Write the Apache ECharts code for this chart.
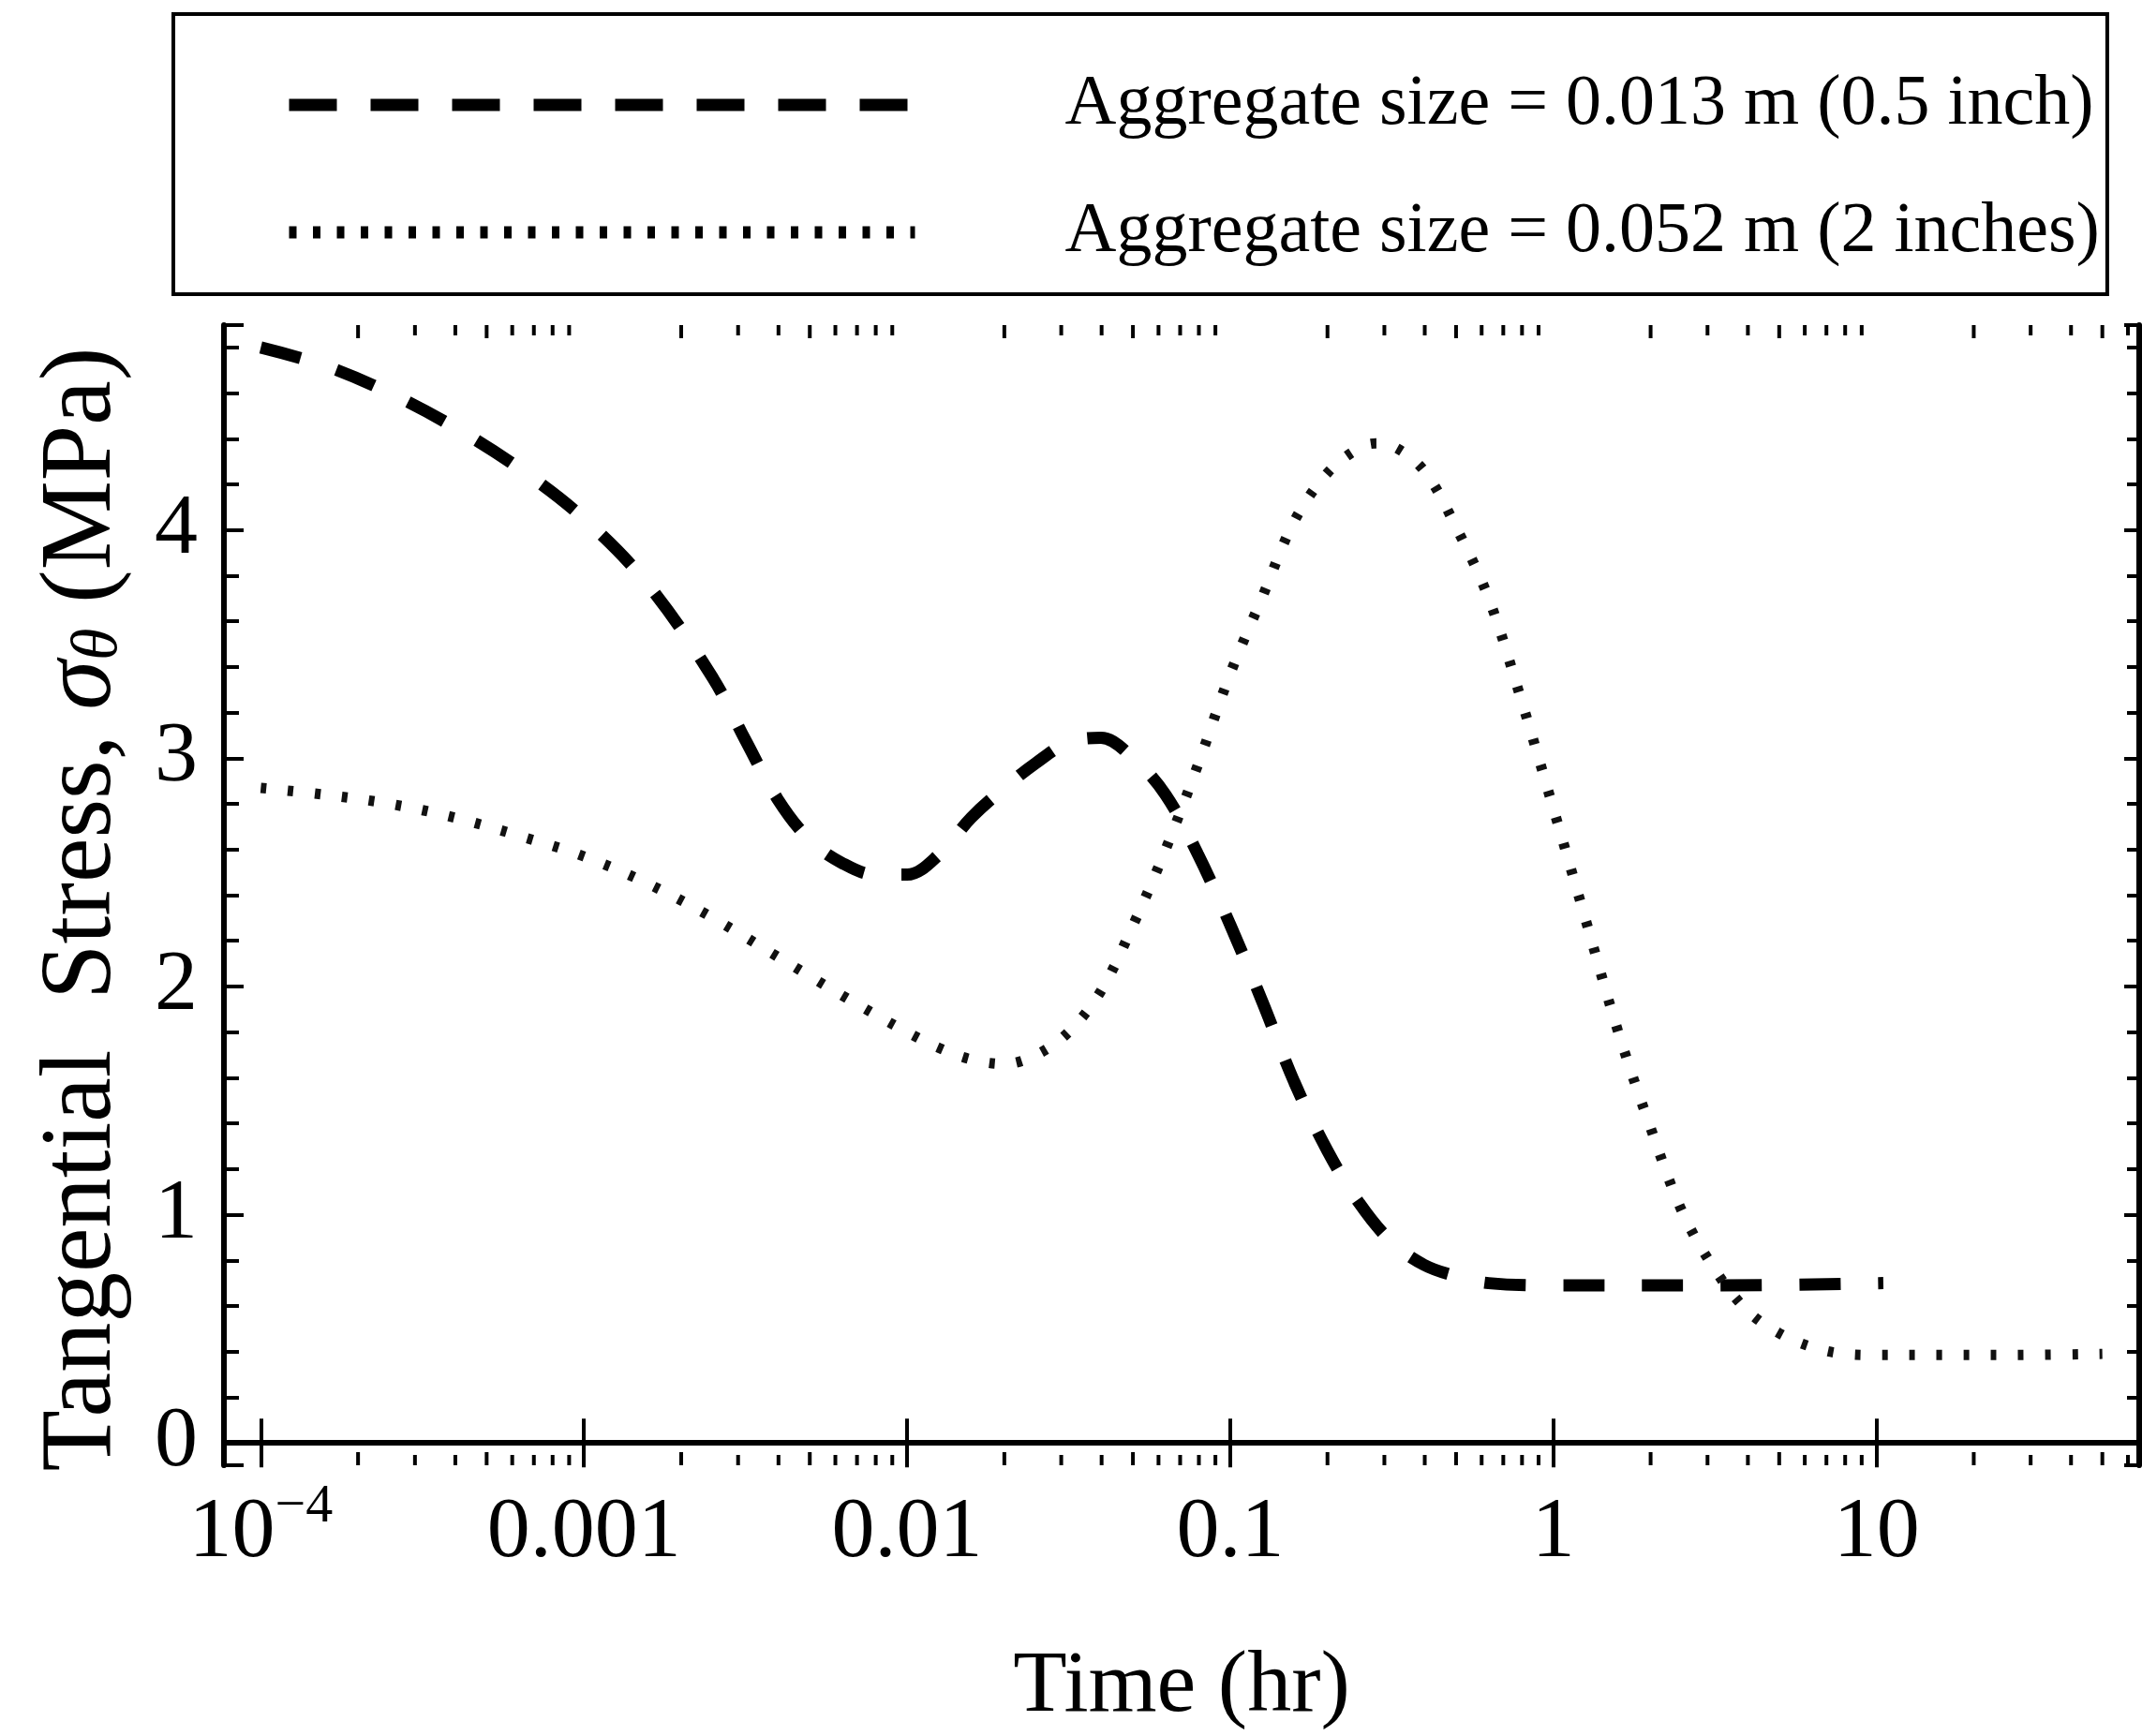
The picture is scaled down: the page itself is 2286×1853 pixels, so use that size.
<!DOCTYPE html>
<html><head><meta charset="utf-8">
<script src="https://cdn.jsdelivr.net/npm/echarts@6/dist/echarts.min.js"></script>
<style>html,body{margin:0;padding:0;background:#fff;}#c{width:2286px;height:1853px;}</style>
</head><body><div id="c"></div>
<script>
// ---- data ----
const seriesNames = ['Aggregate size = 0.013 m (0.5 inch)', 'Aggregate size = 0.052 m (2 inches)'];

const timesA = [0.0001, 0.000158, 0.000251, 0.000398, 0.000631, 0.001, 0.00158, 0.00251, 0.00316, 0.00398, 0.00501, 0.00631, 0.00794, 0.01, 0.0126, 0.0158, 0.02, 0.0251, 0.0316, 0.0398, 0.0501, 0.0631, 0.0794, 0.1, 0.126, 0.158, 0.2, 0.251, 0.316, 0.398, 0.501, 0.631, 1, 3.16, 10.5];
const stressA = [4.80, 4.72, 4.60, 4.45, 4.27, 4.05, 3.76, 3.35, 3.08, 2.82, 2.64, 2.54, 2.49, 2.49, 2.58, 2.74, 2.87, 2.98, 3.07, 3.09, 3.00, 2.84, 2.58, 2.27, 1.93, 1.58, 1.28, 1.05, 0.88, 0.78, 0.73, 0.70, 0.69, 0.69, 0.70];

const timesB = [0.0001, 0.000158, 0.000251, 0.000398, 0.000631, 0.001, 0.00158, 0.00251, 0.00398, 0.00631, 0.01, 0.0126, 0.0158, 0.02, 0.0251, 0.0316, 0.0398, 0.0501, 0.0631, 0.0794, 0.1, 0.126, 0.158, 0.2, 0.251, 0.282, 0.316, 0.398, 0.501, 0.631, 0.794, 1, 1.26, 1.58, 2, 2.51, 3.16, 3.98, 5.01, 6.31, 7.94, 10, 15.8, 25.1, 50];
const stressB = [2.87, 2.84, 2.80, 2.74, 2.66, 2.57, 2.45, 2.30, 2.13, 1.96, 1.80, 1.73, 1.68, 1.66, 1.70, 1.80, 1.98, 2.27, 2.60, 2.97, 3.37, 3.71, 4.04, 4.25, 4.36, 4.38, 4.37, 4.26, 4.01, 3.70, 3.26, 2.78, 2.29, 1.81, 1.38, 1.01, 0.76, 0.58, 0.48, 0.42, 0.39, 0.385, 0.385, 0.385, 0.39];

const xTickValues = [0.0001, 0.001, 0.01, 0.1, 1, 10];
const xTickLabels = ['{b|10}{s|\u22124}', '{b|0.001}', '{b|0.01}', '{b|0.1}', '{b|1}', '{b|10}'];
const xMinorMantissas = [2, 3, 4, 5, 6, 7, 8, 9];
const xMinorDecades = [0.0001, 0.001, 0.01, 0.1, 1, 10];
const yTickValues = [0, 1, 2, 3, 4];
const yTickLabels = ['0', '1', '2', '3', '4'];

const xTitle = 'Time (hr)';
const yTitle = '{n|Tangential  Stress, }{g|\u03c3}{sub|\u03b8}{n| (MPa)}';

// ---- axis ranges ----
const X_MIN = Math.pow(10, -4.114), X_MAX = Math.pow(10, 1.813);
const Y_MIN = -0.098, Y_MAX = 4.898;

const xMinorTicks = [];
xMinorDecades.forEach(d => xMinorMantissas.forEach(m => { const v = +(m * d).toPrecision(6); if (v > X_MIN && v < X_MAX) xMinorTicks.push(v); }));

const FONT = 'Liberation Serif';
const zip = (xs, ys) => xs.map((x, i) => [x, ys[i]]);
const findLabel = (vals, labels, v, rel) => {
  for (let i = 0; i < vals.length; i++) {
    const d = rel ? Math.abs(v / vals[i] - 1) : Math.abs(v - vals[i]);
    if (d < 1e-6) return labels[i];
  }
  return '';
};

const chart = echarts.init(document.getElementById('c'), null, {renderer: 'canvas'});
const axisLineStyle = {color: '#000', width: 6};
const tickStyle = {color: '#000', width: 4};
const hiddenSymbol = {color: 'rgba(0,0,0,0)', opacity: 0, borderWidth: 0};

chart.setOption({
  animation: false,
  backgroundColor: '#fff',
  grid: {left: 239, top: 347, width: 2044, height: 1231, containLabel: false},
  legend: {
    orient: 'vertical', left: 185, top: 15,
    padding: [58, 8, 27, 117], itemGap: 58,
    itemWidth: 668, itemHeight: 14,
    borderColor: '#000', borderWidth: 4, borderRadius: 0, backgroundColor: '#fff',
    selectedMode: false,
    itemStyle: hiddenSymbol,
    textStyle: {fontSize: 76, lineHeight: 78, fontFamily: FONT, color: '#000', padding: [0, 0, 0, 155]},
    data: [
      {name: seriesNames[0], itemStyle: hiddenSymbol, lineStyle: {type: [51, 36], width: 13, color: '#000', cap: 'butt'}},
      {name: seriesNames[1], itemStyle: hiddenSymbol, lineStyle: {type: [8, 17.5], width: 13, color: '#000', cap: 'butt'}}
    ]
  },
  xAxis: [{
    type: 'log', logBase: 10, min: X_MIN, max: X_MAX, position: 'bottom',
    axisLine: {show: true, lineStyle: axisLineStyle},
    axisTick: {show: true, inside: true, length: 26, lineStyle: tickStyle},
    splitLine: {show: false},
    axisLabel: {
      show: true, margin: 16, showMinLabel: false, showMaxLabel: false,
      formatter: v => findLabel(xTickValues, xTickLabels, v, true),
      rich: {
        b: {fontSize: 92, lineHeight: 114, fontFamily: FONT, color: '#000'},
        s: {fontSize: 58, lineHeight: 58, fontFamily: FONT, color: '#000', verticalAlign: 'top'}
      }
    },
    name: xTitle, nameLocation: 'middle', nameGap: 190,
    nameTextStyle: {fontSize: 94, fontFamily: FONT, color: '#000'}
  }, {
    type: 'log', logBase: 10, min: X_MIN, max: X_MAX, position: 'top',
    axisLine: {show: true, lineStyle: axisLineStyle},
    axisTick: {show: true, inside: true, length: 26, lineStyle: tickStyle},
    splitLine: {show: false}, axisLabel: {show: false}
  }],
  yAxis: [{
    type: 'value', min: Y_MIN, max: Y_MAX, position: 'left',
    axisLine: {show: true, lineStyle: axisLineStyle},
    axisTick: {show: true, inside: true, length: 21, lineStyle: tickStyle},
    minorTick: {show: true, splitNumber: 5, length: 16, lineStyle: tickStyle},
    splitLine: {show: false}, minorSplitLine: {show: false},
    axisLabel: {
      show: true, margin: 28, showMinLabel: false, showMaxLabel: false,
      fontSize: 92, fontFamily: FONT, color: '#000',
      formatter: v => findLabel(yTickValues, yTickLabels, v, false)
    },
    name: yTitle, nameLocation: 'middle', nameGap: 98, nameRotate: 90,
    nameTextStyle: {
      padding: [0, 30, 0, 0],
      rich: {
        n: {fontSize: 107, lineHeight: 104, fontFamily: FONT, color: '#000'},
        g: {fontSize: 107, lineHeight: 104, fontFamily: FONT, fontStyle: 'italic', color: '#000'},
        sub: {fontSize: 70, lineHeight: 72, fontFamily: FONT, fontStyle: 'italic', color: '#000', verticalAlign: 'bottom'}
      }
    }
  }, {
    type: 'value', min: Y_MIN, max: Y_MAX, position: 'right',
    axisLine: {show: true, lineStyle: axisLineStyle},
    axisTick: {show: true, inside: true, length: 16, lineStyle: tickStyle},
    minorTick: {show: true, splitNumber: 5, length: 13, lineStyle: tickStyle},
    splitLine: {show: false}, minorSplitLine: {show: false},
    axisLabel: {show: false}
  }],
  series: [{
    name: seriesNames[0], type: 'line', xAxisIndex: 0, yAxisIndex: 0,
    data: zip(timesA, stressA), symbol: 'none', showSymbol: false, smooth: 0.35,
    lineStyle: {color: '#000', width: 13, type: [44, 40], cap: 'butt'},
    itemStyle: {color: '#000'}, z: 3
  }, {
    name: seriesNames[1], type: 'line', xAxisIndex: 0, yAxisIndex: 0,
    data: zip(timesB, stressB), symbol: 'none', showSymbol: false, smooth: 0.35,
    lineStyle: {color: '#111', width: 11, type: [6, 23], cap: 'butt'},
    itemStyle: {color: '#111'}, z: 3
  }, {
    type: 'custom', xAxisIndex: 0, yAxisIndex: 0, silent: true, clip: false, z: 4,
    data: xMinorTicks.map(v => [v, 0]),
    encode: {x: 0, y: 1},
    renderItem: (params, api) => {
      const v = api.value(0);
      const m = Math.round(v / Math.pow(10, Math.floor(Math.log10(v) + 1e-9)));
      const len = (m === 2 || m === 5) ? 14 : 11;
      const b = api.coord([v, Y_MIN]);
      const t = api.coord([v, Y_MAX]);
      return {type: 'group', children: [
        {type: 'line', shape: {x1: b[0], y1: b[1], x2: b[0], y2: b[1] - len}, style: {stroke: '#000', lineWidth: 4}},
        {type: 'line', shape: {x1: t[0], y1: t[1], x2: t[0], y2: t[1] + len}, style: {stroke: '#000', lineWidth: 4}}
      ]};
    }
  }]
});
</script>
</body></html>
